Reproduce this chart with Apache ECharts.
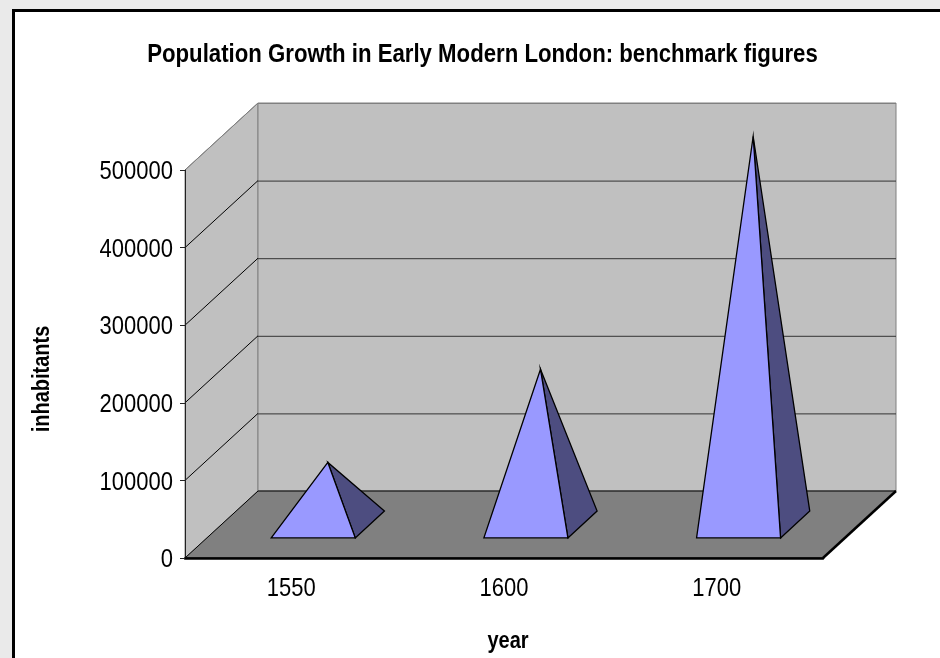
<!DOCTYPE html>
<html>
<head>
<meta charset="utf-8">
<style>html,body{margin:0;padding:0;background:#eaeaea}#c{width:940px;height:658px}</style>
<script src="https://cdn.jsdelivr.net/npm/echarts@6/dist/echarts.min.js"></script>
</head>
<body>
<div id="c"></div>
<script>
const years = ['1550', '1600', '1700'];
const inhabitants = [80000, 200000, 500000];
const yTicks = [100000, 200000, 300000, 400000, 500000];

// 3D projection of the chart box
const depthX = 73, depthY = -67;
const baseNear = 0.3, baseFar = 0.7, baseHalfWidth = 0.1975;
const font = '"Liberation Sans",Arial,sans-serif';
const textStretch = 1.2;

const chart = echarts.init(document.getElementById('c'), null, {renderer: 'canvas'});

function roomItem(params, api) {
  const c = params.coordSys;
  const L = c.x, R = c.x + c.width, T = c.y, B = c.y + c.height;
  const poly = (points, fill, stroke, lw) => ({
    type: 'polygon', shape: {points},
    style: {fill, stroke, lineWidth: lw}
  });
  return {type: 'group', children: [
    poly([[L, T], [L + depthX, T + depthY], [L + depthX, B + depthY], [L, B]], '#c0c0c0', '#808080', 1),
    poly([[L + depthX, T + depthY], [R + depthX, T + depthY], [R + depthX, B + depthY], [L + depthX, B + depthY]], '#c0c0c0', '#808080', 1),
    poly([[L, B], [L + depthX, B + depthY], [R + depthX, B + depthY], [R, B]], '#808080', '#000', 1),
    {type: 'line', shape: {x1: R, y1: B, x2: R + depthX, y2: B + depthY}, style: {stroke: '#000', lineWidth: 2.5}}
  ]};
}

function gridItem(params, api) {
  const c = params.coordSys;
  const y = api.coord([0, api.value(1)])[1];
  const L = c.x, R = c.x + c.width;
  const top = api.value(1) === yTicks[yTicks.length - 1];
  return {type: 'group', children: [
    {type: 'line', shape: {x1: L, y1: y, x2: L + depthX, y2: y + depthY}, style: {stroke: top ? '#808080' : '#000', lineWidth: 1}},
    {type: 'line', shape: {x1: L + depthX, y1: y + depthY + 0.5, x2: R + depthX, y2: y + depthY + 0.5}, style: {stroke: top ? '#808080' : '#333', lineWidth: 1}}
  ]};
}

function pyramidItem(params, api) {
  const base = api.coord([api.value(0), 0]);
  const top = api.coord([api.value(0), api.value(1)]);
  const band = api.size([1, 0])[0];
  const hw = band * baseHalfWidth;
  const at = (x, d) => [x + depthX * d, base[1] + depthY * d];
  const nl = at(base[0] - hw, baseNear), nr = at(base[0] + hw, baseNear);
  const fr = at(base[0] + hw, baseFar);
  const mid = (baseNear + baseFar) / 2;
  const apex = [base[0] + depthX * mid, top[1] + depthY * mid];
  return {type: 'group', children: [
    {type: 'polygon', shape: {points: [nr, fr, apex]}, style: {fill: '#4d4d80', stroke: '#000', lineWidth: 1.3}},
    {type: 'polygon', shape: {points: [nl, nr, apex]}, style: {fill: '#9999ff', stroke: '#000', lineWidth: 1.3}}
  ]};
}

chart.setOption({
  animation: false,
  backgroundColor: '#eaeaea',
  graphic: [{
    type: 'rect', z: -1, silent: true,
    shape: {x: 13.5, y: 10.5, width: 1000, height: 1000},
    style: {fill: '#fff', stroke: '#000', lineWidth: 3}
  }],
  title: {
    text: 'Population Growth in Early Modern London: benchmark figures',
    left: 477.5, top: 36, textAlign: 'center',
    textStyle: {fontFamily: font, fontWeight: 'bold', fontSize: 22.2, color: '#000'}
  },
  grid: {left: 185, right: 117, top: 170, bottom: 100},
  xAxis: {
    type: 'category', data: years, z: 3,
    name: 'year', nameLocation: 'middle', nameGap: 71.5,
    nameTextStyle: {fontFamily: font, fontWeight: 'bold', fontSize: 20, color: '#000', padding: [0, 0, 0, 8]},
    axisLine: {lineStyle: {color: '#000', width: 2.5}},
    axisTick: {length: 6, lineStyle: {color: '#333', width: 1}},
    axisLabel: {fontFamily: font, fontSize: 22, color: '#000', margin: 18}
  },
  yAxis: {
    type: 'value', min: 0, max: 500000, interval: 100000, z: 3,
    name: 'inhabitants', nameLocation: 'middle', nameGap: 131,
    nameTextStyle: {fontFamily: font, fontWeight: 'bold', fontSize: 20, color: '#000', padding: [0, 30, 0, 0]},
    splitLine: {show: false},
    axisLine: {show: true, lineStyle: {color: '#222', width: 1}},
    axisTick: {show: true, length: 5, lineStyle: {color: '#222', width: 1}},
    axisLabel: {fontFamily: font, fontSize: 22, color: '#000', margin: 12, formatter: v => String(v)}
  },
  series: [
    {type: 'custom', name: 'room', z: 1, silent: true, data: [[0, 0]], encode: {x: 0, y: 1}, renderItem: roomItem},
    {type: 'custom', name: 'gridlines', z: 2, silent: true, data: yTicks.map(t => [0, t]), encode: {x: 0, y: 1}, renderItem: gridItem},
    {type: 'custom', name: 'inhabitants', z: 4, data: inhabitants.map((v, i) => [i, v]), encode: {x: 0, y: 1}, renderItem: pyramidItem}
  ]
});

// The reference's text is tall and condensed: stretch the real text elements across their baseline.
function stretchText(el) {
  if (el.type === 'text' || (el.style && typeof el.style.text === 'string' && el.isGroup !== true && el.type !== 'tspan')) {
    el.scaleY = textStretch;
    if (el.style.align === 'right') el.y += 2;
    el.markRedraw();
  }
  if (el.isGroup) el.eachChild(stretchText);
}
chart.getZr().storage.getRoots().forEach(stretchText);
chart.getZr().refresh();
</script>
</body>
</html>
